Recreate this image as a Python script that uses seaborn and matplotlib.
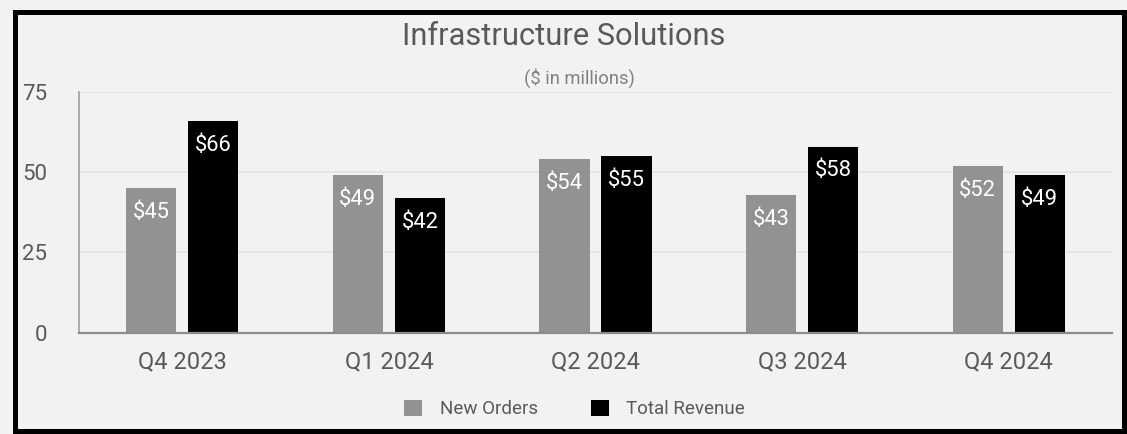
import matplotlib
matplotlib.use("Agg")
import matplotlib.pyplot as plt
from matplotlib.patches import Rectangle
import pandas as pd
import seaborn as sns

# Quarterly figures, $ in millions
quarters = ["Q4 2023", "Q1 2024", "Q2 2024", "Q3 2024", "Q4 2024"]
new_orders = [45, 49, 54, 43, 52]
total_revenue = [66, 42, 55, 58, 49]
series_names = ["New Orders", "Total Revenue"]
y_ticks = [0, 25, 50, 75]

df = pd.DataFrame({
    "quarter": quarters * 2,
    "value": new_orders + total_revenue,
    "series": [series_names[0]] * len(quarters) + [series_names[1]] * len(quarters),
})

sns.set_theme(style="white")
plt.rcParams["font.family"] = ["Roboto", "DejaVu Sans"]

BG = "#f2f2f2"
TXT = "#595959"

fig = plt.figure(figsize=(11.27, 4.34), dpi=100, facecolor=BG)
ax = fig.add_axes([0.0701, 0.2334, 0.9166, 0.5546])
ax.set_facecolor(BG)

sns.barplot(
    data=df, x="quarter", y="value", hue="series",
    palette={series_names[0]: "#929292", series_names[1]: "#000000"},
    width=0.6, gap=0.19, saturation=1, ax=ax, order=quarters,
    hue_order=series_names, linewidth=0,
)

ax.set_ylim(0, 75)
ax.set_xlim(-0.5, len(quarters) - 0.5)
ax.set_yticks(y_ticks)
ax.set_xlabel("")
ax.set_ylabel("")
ax.grid(axis="y", color="#e3e3e3", linewidth=1.3)
ax.set_axisbelow(True)
ax.tick_params(axis="y", length=0, pad=23, labelsize=16, labelcolor=TXT)
ax.tick_params(axis="x", length=0, pad=13, labelsize=17, labelcolor=TXT)
for side in ("top", "right"):
    ax.spines[side].set_visible(False)
ax.spines["left"].set_color("#a6a6a6")
ax.spines["left"].set_linewidth(1.3)
ax.spines["bottom"].set_color("#8c8c8c")
ax.spines["bottom"].set_linewidth(1.6)

# Value labels inside the top of each bar
for container in ax.containers:
    for patch in container:
        h = patch.get_height()
        ax.annotate(
            f"${h:.0f}", (patch.get_x() + patch.get_width() / 2, h),
            xytext=(0, -17.5), textcoords="offset points",
            ha="center", va="center", color="white", fontsize=15.8,
        )

sns.move_legend(
    ax, loc="center", bbox_to_anchor=(0.510, 0.0576),
    bbox_transform=fig.transFigure, ncol=2, frameon=False, title=None,
    fontsize=13.5, handlelength=0.96, handleheight=0.96,
    handletextpad=0.95, columnspacing=2.8,
)
for t in ax.get_legend().get_texts():
    t.set_color(TXT)

fig.text(0.5, 0.915, "Infrastructure Solutions", ha="center", va="center",
         fontsize=22.2, color=TXT)
fig.text(0.5138, 0.8203, "($ in millions)", ha="center", va="center",
         fontsize=13.2, color="#808080")

# Black frame round the chart
fig.patches.append(Rectangle(
    (0.01287, 0.00806), 0.99734 - 0.01287, 0.9735 - 0.00806,
    transform=fig.transFigure, fill=False, edgecolor="black", linewidth=3.6,
))

fig.savefig("out.png", dpi=100, facecolor=BG)
